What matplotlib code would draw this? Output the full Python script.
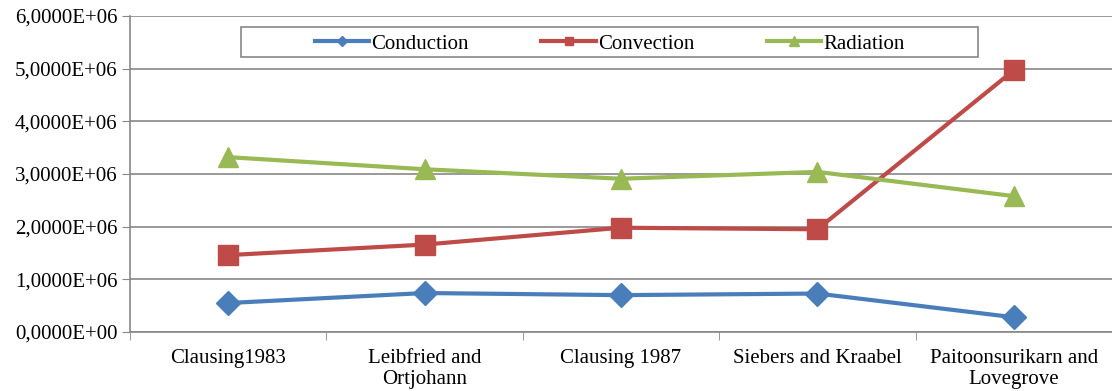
import matplotlib
matplotlib.use("Agg")
import matplotlib.pyplot as plt
from matplotlib.ticker import FuncFormatter, FixedLocator
from matplotlib.patches import Rectangle
import numpy as np

categories = ["Clausing1983", "Leibfried and\nOrtjohann", "Clausing 1987",
              "Siebers and Kraabel", "Paitoonsurikarn and\nLovegrove"]
conduction = [0.55e6, 0.74e6, 0.70e6, 0.73e6, 0.28e6]
convection = [1.46e6, 1.66e6, 1.98e6, 1.95e6, 4.97e6]
radiation = [3.32e6, 3.09e6, 2.91e6, 3.04e6, 2.58e6]

plt.rcParams['font.family'] = ['Liberation Serif', 'DejaVu Serif']
plt.rcParams['font.size'] = 15

fig = plt.figure(figsize=(11.12, 3.91), dpi=100)
ax = fig.add_axes([130/1112, 59/391, 982/1112, 316/391])

x = np.arange(len(categories))
ax.plot(x, conduction, color='#4A7EBB', lw=3, marker='D', ms=12, label='Conduction')
ax.plot(x, convection, color='#BE4B48', lw=3, marker='s', ms=14, label='Convection')
ax.plot(x, radiation, color='#98B954', lw=3, marker='^', ms=15, label='Radiation')

ax.set_xlim(-0.5, len(categories) - 0.5)
ax.set_ylim(0, 6e6)
ax.set_yticks(np.arange(0, 6.01e6, 1e6))
ax.yaxis.set_major_formatter(FuncFormatter(lambda v, p: f"{v:.4E}".replace('.', ',')))
ax.grid(axis='y', color='#878787', lw=1.2)
ax.set_axisbelow(True)

ax.set_xticks(x)
ax.set_xticklabels(categories, linespacing=1.2)
ax.xaxis.set_minor_locator(FixedLocator(np.arange(-0.5, len(categories), 1.0)))
ax.tick_params(axis='x', which='major', length=0, pad=12, labelsize=15)
ax.tick_params(axis='x', which='minor', length=6, color='#878787')
ax.tick_params(axis='y', length=6, color='#878787', labelsize=15, pad=3)

for s in ['top', 'right']:
    ax.spines[s].set_visible(False)
for s in ['left', 'bottom']:
    ax.spines[s].set_color('#878787')
    ax.spines[s].set_linewidth(1.2)

# legend frame drawn separately, wider than the entries
ax.add_patch(Rectangle((0.113, 0.870), 0.751, 0.095, transform=ax.transAxes,
                       facecolor='white', edgecolor='#878787', lw=1.2, zorder=5))
leg = ax.legend(loc='center', bbox_to_anchor=(0.4885, 0.912), ncol=3,
                frameon=False, fontsize=15, markerscale=0.45,
                handlelength=2.6, handletextpad=0.1, columnspacing=3.5,
                borderaxespad=0, borderpad=0)
leg.set_zorder(6)

fig.patch.set_facecolor('white')
fig.savefig('out.png', dpi=100)
